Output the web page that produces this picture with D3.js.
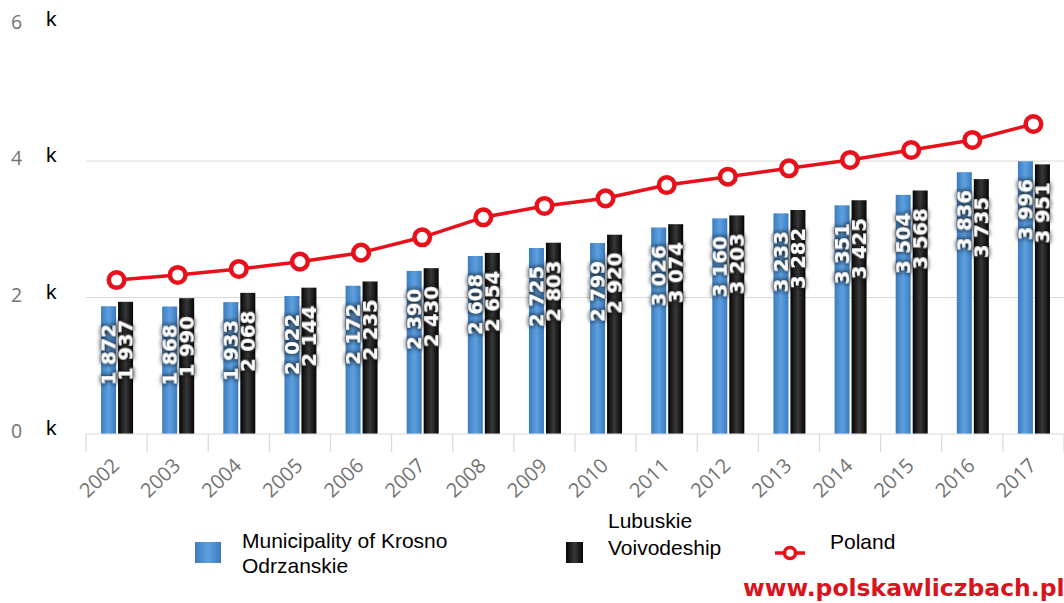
<!DOCTYPE html>
<html>
<head>
<meta charset="utf-8">
<script src="https://cdn.jsdelivr.net/npm/d3@7"></script>
<style>
  html, body { margin: 0; padding: 0; background: #fff; }
  svg { display: block; }
</style>
</head>
<body>
<svg id="chart" width="1064" height="603"></svg>
<script>
// Average gross monthly wage, PLN
const years = ["2002","2003","2004","2005","2006","2007","2008","2009","2010","2011","2012","2013","2014","2015","2016","2017"];
const krosno = [1872,1868,1933,2022,2172,2390,2608,2725,2799,3026,3160,3233,3351,3504,3836,3996];
const lubuskie = [1937,1990,2068,2144,2235,2430,2654,2803,2920,3074,3203,3282,3425,3568,3735,3951];
const poland = [2256,2330,2418,2525,2657,2882,3175,3341,3453,3648,3770,3893,4015,4161,4308,4542];
const yTicks = [0, 2000, 4000, 6000];
const legendLabels = [["Municipality of Krosno", "Odrzanskie"], ["Lubuskie", "Voivodeship"], ["Poland"]];

const svg = d3.select("#chart");
const fmt = v => d3.format(",")(v).replace(/,/g, " ");

const x = d3.scaleBand().domain(years).range([86, 1064]).paddingInner(0).paddingOuter(0);
const y = d3.scaleLinear().domain([0, 6000]).range([434, 24.5]);
const bw = 15;

const defs = svg.append("defs");
function hGrad(id, stops) {
  const g = defs.append("linearGradient").attr("id", id).attr("x1", "0%").attr("x2", "100%").attr("y1", "0%").attr("y2", "0%");
  stops.forEach(([o, c]) => g.append("stop").attr("offset", o).attr("stop-color", c));
}
hGrad("gBlue", [["0%", "#3b7cc0"], ["50%", "#5ea0de"], ["100%", "#3a7bbf"]]);
hGrad("gBlack", [["0%", "#050505"], ["50%", "#383838"], ["100%", "#050505"]]);

const halo = defs.append("filter").attr("id", "halo").attr("x", "-60%").attr("y", "-30%").attr("width", "220%").attr("height", "160%");
halo.append("feMorphology").attr("in", "SourceAlpha").attr("operator", "dilate").attr("radius", 1).attr("result", "d");
halo.append("feGaussianBlur").attr("in", "d").attr("stdDeviation", 2.2).attr("result", "b");
halo.append("feFlood").attr("flood-color", "#151515").attr("flood-opacity", 0.85);
halo.append("feComposite").attr("in2", "b").attr("operator", "in").attr("result", "s");
const hm = halo.append("feMerge");
hm.append("feMergeNode").attr("in", "s");
hm.append("feMergeNode").attr("in", "SourceGraphic");

// gridlines
svg.append("g").selectAll("line").data([2000, 4000]).join("line")
  .attr("x1", x.range()[0]).attr("x2", x.range()[1])
  .attr("y1", d => y(d)).attr("y2", d => y(d))
  .attr("stroke", "#d9d9d9").attr("stroke-width", 1.2);

// y-axis labels
const yl = svg.append("g");
yl.selectAll("text.num").data(yTicks).join("text").attr("class", "num")
  .attr("x", 11).attr("y", d => y(d) + 4)
  .attr("font-family", "Open Sans").attr("font-size", 19.5).attr("fill", "#737373")
  .text(d => d / 1000);
yl.selectAll("text.k").data(yTicks).join("text").attr("class", "k")
  .attr("x", 46).attr("y", d => y(d) + 1)
  .attr("font-family", "Liberation Sans").attr("font-size", 21).attr("fill", "#000")
  .text("k");

// bars
const series = [
  { vals: krosno, fill: "url(#gBlue)", dx: -15.5 },
  { vals: lubuskie, fill: "url(#gBlack)", dx: 1.5 }
];
series.forEach(s => {
  const g = svg.append("g");
  g.selectAll("rect").data(years).join("rect")
    .attr("x", (d) => x(d) + x.bandwidth() / 2 + s.dx)
    .attr("y", (d, i) => y(s.vals[i]))
    .attr("width", bw)
    .attr("height", (d, i) => y(0) - y(s.vals[i]))
    .attr("fill", s.fill);
});

// axis line and category ticks
const ax = svg.append("g");
ax.append("line").attr("x1", x.range()[0]).attr("x2", x.range()[1]).attr("y1", y(0)).attr("y2", y(0))
  .attr("stroke", "#d9d9d9").attr("stroke-width", 1.2);
ax.selectAll("line.tk").data(years.map(d => x(d)).concat([x.range()[1]])).join("line").attr("class", "tk")
  .attr("x1", d => d).attr("x2", d => d).attr("y1", y(0)).attr("y2", y(0) + 18)
  .attr("stroke", "#d9d9d9").attr("stroke-width", 1.2);
ax.selectAll("text").data(years).join("text")
  .attr("transform", d => `translate(${x(d) + x.bandwidth() / 2 + 4},${y(0) + 33}) rotate(-44)`)
  .attr("text-anchor", "end")
  .attr("font-family", "Open Sans").attr("font-size", 20).attr("fill", "#737373")
  .text(d => d);

// value labels inside bars
series.forEach(s => {
  svg.append("g").selectAll("text").data(years).join("text")
    .attr("transform", (d, i) => `translate(${x(d) + x.bandwidth() / 2 + s.dx + bw - 0.5},${y(s.vals[i]) + 18}) rotate(-90)`)
    .attr("text-anchor", "end")
    .attr("font-family", "DejaVu Sans").attr("font-weight", "bold").attr("font-size", 19.5)
    .attr("fill", "#fff").attr("filter", "url(#halo)")
    .text((d, i) => fmt(s.vals[i]));
});

// Poland line
const red = "#e8101a";
const line = d3.line().x((d, i) => x(years[i]) + x.bandwidth() / 2).y(d => y(d));
svg.append("path").datum(poland).attr("d", line)
  .attr("fill", "none").attr("stroke", red).attr("stroke-width", 3.5).attr("stroke-linejoin", "round");
svg.append("g").selectAll("circle").data(poland).join("circle")
  .attr("cx", (d, i) => x(years[i]) + x.bandwidth() / 2).attr("cy", d => y(d))
  .attr("r", 7.8).attr("fill", "#fff").attr("stroke", red).attr("stroke-width", 4.5);

// legend
const lg = svg.append("g").attr("font-family", "Liberation Sans").attr("font-size", 21).attr("fill", "#000");
lg.append("rect").attr("x", 195).attr("y", 542).attr("width", 26).attr("height", 21).attr("fill", "url(#gBlue)");
lg.append("text").attr("x", 242).attr("y", 548).text(legendLabels[0][0]);
lg.append("text").attr("x", 242).attr("y", 573).text(legendLabels[0][1]);
lg.append("rect").attr("x", 566).attr("y", 542).attr("width", 17).attr("height", 21).attr("fill", "url(#gBlack)");
lg.append("text").attr("x", 608).attr("y", 528).text(legendLabels[1][0]);
lg.append("text").attr("x", 608).attr("y", 555).text(legendLabels[1][1]);
lg.append("line").attr("x1", 775).attr("x2", 805).attr("y1", 553).attr("y2", 553).attr("stroke", red).attr("stroke-width", 3.5);
lg.append("circle").attr("cx", 790).attr("cy", 553).attr("r", 5.5).attr("fill", "#fff").attr("stroke", red).attr("stroke-width", 3.5);
lg.append("text").attr("x", 830).attr("y", 549).text(legendLabels[2][0]);

// site mark
svg.append("text").attr("x", 743).attr("y", 596)
  .attr("font-family", "DejaVu Sans").attr("font-weight", "bold").attr("font-size", 23.5)
  .attr("fill", "#d8141e").text("www.polskawliczbach.pl");
</script>
</body>
</html>
